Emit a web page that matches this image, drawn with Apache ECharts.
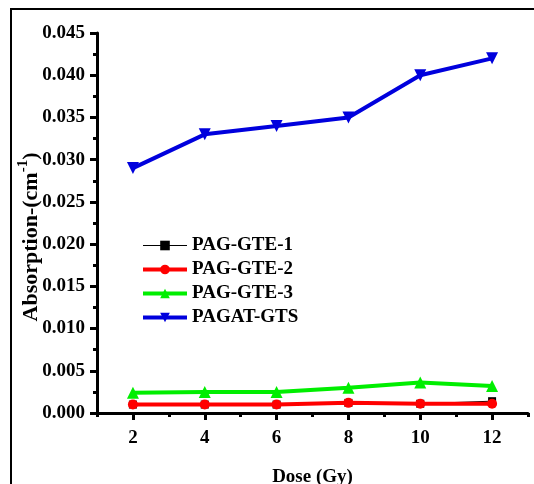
<!DOCTYPE html>
<html>
<head>
<meta charset="utf-8">
<script src="https://cdn.jsdelivr.net/npm/echarts@6/dist/echarts.min.js"></script>
<style>
  html, body { margin: 0; padding: 0; background: #fff; }
  #chart { width: 534px; height: 484px; }
</style>
</head>
<body>
<div id="chart"></div>
<script>
// Dose values (Gy)
const doses = [2, 4, 6, 8, 10, 12];
// Absorption (cm^-1) per gel formulation
const gte1 = [0.0010, 0.0010, 0.0010, 0.0012, 0.0011, 0.0014];
const gte2 = [0.0010, 0.0010, 0.0010, 0.0012, 0.0011, 0.0011];
const gte3 = [0.0024, 0.0025, 0.0025, 0.0030, 0.0036, 0.0032];
const gts  = [0.029, 0.033, 0.034, 0.035, 0.040, 0.042];
const seriesNames = ['PAG-GTE-1', 'PAG-GTE-2', 'PAG-GTE-3', 'PAGAT-GTS'];
// Axis ticks
const xMajorTicks = [2, 4, 6, 8, 10, 12];
const xMinorTicks = [1, 3, 5, 7, 9, 11, 13];

const pairs = arr => doses.map((d, i) => [d, arr[i]]);
const font = '"Liberation Serif", "Times New Roman", serif';

const chart = echarts.init(document.getElementById('chart'), null, { renderer: 'canvas' });

chart.setOption({
  animation: false,
  backgroundColor: '#fff',
  grid: { left: 97, top: 33, right: 6, bottom: 71, containLabel: false, outerBoundsMode: 'none' },
  legend: {
    left: 136, top: 231, orient: 'vertical',
    itemWidth: 44, itemHeight: 12, itemGap: 5,
    lineStyle: { width: 'inherit' },
    textStyle: { fontFamily: font, fontWeight: 'bold', fontSize: 19, color: '#000' },
    data: seriesNames
  },
  xAxis: [{
    type: 'value', min: 1, max: 13, interval: 1,
    axisLine: { lineStyle: { color: '#000', width: 3 } },
    axisTick: { customValues: xMajorTicks, length: 7, lineStyle: { color: '#000', width: 3 } },
    axisLabel: {
      customValues: xMajorTicks, margin: 16,
      fontFamily: font, fontWeight: 'bold', fontSize: 19, color: '#000'
    },
    splitLine: { show: false },
    name: 'Dose (Gy)', nameLocation: 'middle', nameGap: 55,
    nameTextStyle: { fontFamily: font, fontWeight: 'bold', fontSize: 19, color: '#000' }
  }, {
    type: 'value', min: 1, max: 13, interval: 1, position: 'bottom',
    axisLine: { show: false },
    axisTick: { customValues: xMinorTicks, length: 4, lineStyle: { color: '#000', width: 3 } },
    axisLabel: { show: false },
    splitLine: { show: false }
  }],
  yAxis: {
    type: 'value', min: 0, max: 0.045, interval: 0.005,
    axisLine: { show: true, lineStyle: { color: '#000', width: 3 } },
    axisTick: { show: true, length: 7, lineStyle: { color: '#000', width: 3 } },
    minorTick: { show: true, splitNumber: 2, length: 4, lineStyle: { color: '#000', width: 3 } },
    axisLabel: {
      margin: 12, formatter: v => v.toFixed(3),
      fontFamily: font, fontWeight: 'bold', fontSize: 19, color: '#000'
    },
    splitLine: { show: false }
  },
  graphic: [{
    type: 'polyline', silent: true,
    shape: { points: [[11, 490], [11, 9], [540, 9]] },
    style: { stroke: '#000', lineWidth: 2, fill: null }
  }, {
    type: 'text', x: 29, y: 237, rotation: Math.PI / 2, silent: true,
    style: {
      text: '{a|Absorption-(cm}{s|-1}{a|)}',
      align: 'center', verticalAlign: 'middle',
      rich: {
        a: { fontFamily: font, fontWeight: 'bold', fontSize: 22, fill: '#000', lineHeight: 26, verticalAlign: 'bottom' },
        s: { fontFamily: font, fontWeight: 'bold', fontSize: 15, fill: '#000', lineHeight: 26, verticalAlign: 'top' }
      }
    }
  }],
  series: [{
    name: seriesNames[0], type: 'line', data: pairs(gte1),
    symbol: 'rect', symbolSize: 8, color: '#000',
    lineStyle: { width: 1, color: '#000' }, itemStyle: { color: '#000' }, z: 2
  }, {
    name: seriesNames[1], type: 'line', data: pairs(gte2),
    symbol: 'circle', symbolSize: 10, color: '#ff0000',
    lineStyle: { width: 4, color: '#ff0000' }, itemStyle: { color: '#ff0000' }, z: 3
  }, {
    name: seriesNames[2], type: 'line', data: pairs(gte3),
    symbol: 'triangle', symbolSize: 12, color: '#00ee00',
    lineStyle: { width: 4, color: '#00ee00' }, itemStyle: { color: '#00ee00' }, z: 4
  }, {
    name: seriesNames[3], type: 'line', data: pairs(gts),
    symbol: 'triangle', symbolRotate: 180, symbolSize: 12, color: '#0000dd',
    lineStyle: { width: 4, color: '#0000dd' }, itemStyle: { color: '#0000dd' }, z: 5
  }]
});
</script>
</body>
</html>
